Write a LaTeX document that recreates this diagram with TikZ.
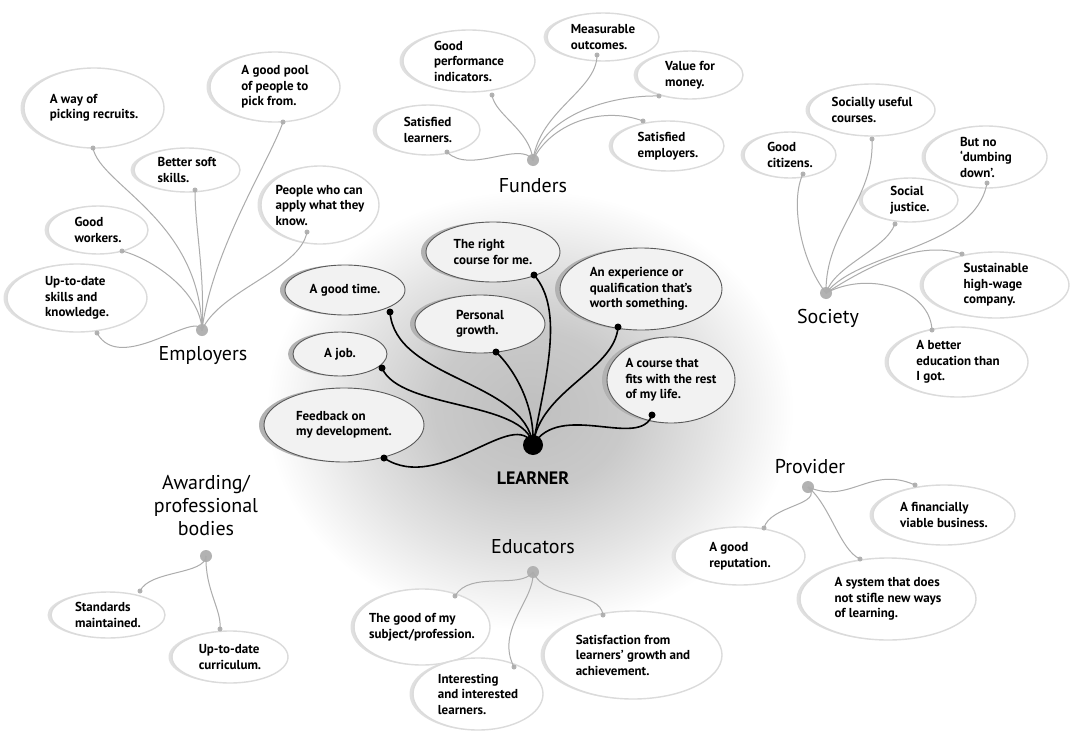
\documentclass[tikz,border=0pt]{standalone}
\usepackage{fontspec}
\setmainfont{PT Sans}
\usetikzlibrary{shapes.geometric}
\pgfdeclareradialshading{bgshade}{\pgfpoint{0bp}{0bp}}{color(0bp)=(gray!50); color(8bp)=(gray!42); color(15bp)=(gray!22); color(22bp)=(white); color(50bp)=(white)}
\tikzset{
  obub/.style={ellipse, fill=white, draw=gray!28, line width=1.4pt, inner sep=0pt,
    preaction={fill=gray!24, transform canvas={xshift=-3.5pt}}},
  lbub/.style={ellipse, fill=gray!10, draw=gray!70!black, line width=0.9pt, inner sep=0pt,
    preaction={fill=gray!60, transform canvas={xshift=-5pt}}},
  btxt/.style={align=left, inner sep=0pt, font=\fontsize{13}{15.5}\selectfont\bfseries},
  head/.style={align=center, inner sep=0pt, font=\fontsize{20}{23}\selectfont},
  ohub/.style={circle, fill=gray!60, inner sep=0pt, minimum size=12pt},
  odot/.style={circle, fill=gray!60, inner sep=0pt, minimum size=5pt},
  ldot/.style={circle, fill=black, inner sep=0pt, minimum size=7pt},
  lhub/.style={circle, fill=black, inner sep=0pt, minimum size=20pt},
  oline/.style={draw=gray!65, line width=1pt},
  lline/.style={draw=black, line width=1.6pt},
}
\newcommand\ob[6]{\node[obub, minimum width=#4pt, minimum height=#5pt] (#1) at (#2,#3) {};
  \node[btxt] (#1t) at (#2,#3) {#6};}
\newcommand\lb[6]{\node[lbub, minimum width=#4pt, minimum height=#5pt] (#1) at (#2,#3) {};
  \node[btxt] (#1t) at (#2,#3) {#6};}
\begin{document}
\begin{tikzpicture}[x=1pt,y=-1pt]
\useasboundingbox (0,0) rectangle (1072,731);
\fill[white] (0,0) rectangle (1072,731);
\shade[shading=bgshade] (530,410) ellipse (300 and 250);

% ---------- bubbles ----------
% Employers
\ob{wayof}{94}{108}{140}{80}{A way of\\picking recruits.}
\ob{soft}{187}{170}{106}{44}{Better soft\\skills.}
\ob{pool}{275}{87}{130}{70}{A good pool\\of people to\\pick from.}
\ob{workers}{98}{230}{100}{48}{Good\\workers.}
\ob{people}{320}{205}{118}{78}{People who can\\apply what they\\know.}
\ob{uptodate}{77}{298}{140}{68}{Up-to-date\\skills and\\knowledge.}
% Funders
\ob{perf}{469}{61}{132}{62}{Good\\performance\\indicators.}
\ob{meas}{603}{37}{112}{48}{Measurable\\outcomes.}
\ob{value}{690}{75}{106}{48}{Value for\\money.}
\ob{slearn}{428}{130}{104}{50}{Satisfied\\learners.}
\ob{semp}{668}{146}{112}{50}{Satisfied\\employers.}
% Society
\ob{socuse}{872}{110}{126}{52}{Socially useful\\courses.}
\ob{citizens}{790}{155}{92}{46}{Good\\citizens.}
\ob{dumb}{986}{157}{122}{62}{But no\\`dumbing\\down'.}
\ob{justice}{910}{200}{96}{44}{Social\\justice.}
\ob{sust}{996}{285}{146}{66}{Sustainable\\high-wage\\company.}
\ob{better}{958}{362}{140}{70}{A better\\education than\\I got.}
% Learner
\lb{right}{493}{252}{134}{60}{The right\\course for me.}
\lb{goodtime}{345}{290}{120}{50}{A good time.}
\lb{growth}{480}{324}{130}{58}{Personal\\growth.}
\lb{exper}{641}{289}{162}{82}{An experience or\\qualification that's\\worth something.}
\lb{fits}{671}{380}{128}{86}{A course that\\fits with the rest\\of my life.}
\lb{job}{340}{354}{94}{44}{A job.}
\lb{feedback}{344}{425}{160}{74}{Feedback on\\my development.}
% Awarding
\ob{standards}{108}{615}{114}{46}{Standards\\maintained.}
\ob{curric}{230}{657}{116}{52}{Up-to-date\\curriculum.}
% Educators
\ob{goodsub}{422}{627}{136}{76}{The good of my\\subject/profession.}
\ob{interest}{478}{694}{130}{72}{Interesting\\and interested\\learners.}
\ob{satis}{633}{655}{178}{88}{Satisfaction from\\learners' growth and\\achievement.}
% Provider
\ob{finance}{944}{515}{142}{60}{A financially\\viable business.}
\ob{reput}{740}{556}{130}{58}{A good\\reputation.}
\ob{system}{888}{599}{176}{82}{A system that does\\not stifle new ways\\of learning.}

% ---------- headings ----------
\node[head] (Elab) at (203,356) {Employers};
\node[head] (Flab) at (533,186) {Funders};
\node[head] (Slab) at (828,318) {Society};
\node[inner sep=0pt, font=\fontsize{18}{20}\selectfont\bfseries] (Llab) at (533,478) {LEARNER};
\node[head] (Alab) at (206,505) {Awarding/\\professional\\bodies};
\node[head] (Edlab) at (533,547) {Educators};
\node[head] (Plab) at (810,467) {Provider};

% ---------- hubs and dots ----------
\node[ohub] (E) at (202,330) {};
\node[odot] (e1) at (93,148) {};
\node[odot] (e2) at (195,190) {};
\node[odot] (e3) at (283,122) {};
\node[odot] (e4) at (122,251) {};
\node[odot] (e5) at (307,232) {};
\node[odot] (e6) at (97,333) {};

\node[ohub] (F) at (533,160) {};
\node[odot] (f1) at (492,95) {};
\node[odot] (f2) at (597,55) {};
\node[odot] (f3) at (659,96) {};
\node[odot] (f4) at (643,121) {};
\node[odot] (f5) at (447,152) {};

\node[ohub] (S) at (826,293) {};
\node[odot] (s1) at (803,174) {};
\node[odot] (s2) at (872,139) {};
\node[odot] (s3) at (895,224) {};
\node[odot] (s4) at (987,183) {};
\node[odot] (s5) at (962,254) {};
\node[odot] (s6) at (932,330) {};

\node[lhub] (L) at (533,445) {};
\node[ldot] (l1) at (534,275) {};
\node[ldot] (l2) at (390,312) {};
\node[ldot] (l3) at (496,352) {};
\node[ldot] (l4) at (382,368) {};
\node[ldot] (l5) at (384,458) {};
\node[ldot] (l6) at (618,327) {};
\node[ldot] (l7) at (652,415) {};

\node[ohub] (A) at (206,556) {};
\node[odot] (a1) at (140,591) {};
\node[odot] (a2) at (220,629) {};

\node[ohub] (Ed) at (533,572) {};
\node[odot] (d1) at (455,596) {};
\node[odot] (d2) at (514,667) {};
\node[odot] (d3) at (603,615) {};

\node[ohub] (P) at (808,487) {};
\node[odot] (p1) at (915,485) {};
\node[odot] (p2) at (764,528) {};
\node[odot] (p3) at (860,559) {};

% ---------- connectors ----------
\draw[oline] (E.center) .. controls (200,220) and (100,185) .. (e1.center);
\draw[oline] (E.center) .. controls (205,270) and (195,230) .. (e2.center);
\draw[oline] (E.center) .. controls (212,250) and (270,160) .. (e3.center);
\draw[oline] (E.center) .. controls (200,290) and (150,258) .. (e4.center);
\draw[oline] (E.center) .. controls (220,290) and (300,270) .. (e5.center);
\draw[oline] (E.center) .. controls (195,310) and (120,375) .. (e6.center);

\draw[oline] (F.center) .. controls (530,130) and (495,115) .. (f1.center);
\draw[oline] (F.center) .. controls (540,110) and (597,90) .. (f2.center);
\draw[oline] (F.center) .. controls (545,115) and (610,95) .. (f3.center);
\draw[oline] (F.center) .. controls (550,125) and (600,105) .. (f4.center);
\draw[oline] (F.center) .. controls (520,140) and (470,175) .. (f5.center);

\draw[oline] (S.center) .. controls (800,260) and (790,200) .. (s1.center);
\draw[oline] (S.center) .. controls (825,230) and (875,200) .. (s2.center);
\draw[oline] (S.center) .. controls (835,265) and (885,250) .. (s3.center);
\draw[oline] (S.center) .. controls (860,250) and (975,250) .. (s4.center);
\draw[oline] (S.center) .. controls (870,265) and (920,240) .. (s5.center);
\draw[oline] (S.center) .. controls (870,270) and (930,290) .. (s6.center);

\draw[lline] (L.center) .. controls (545,380) and (565,310) .. (l1.center);
\draw[lline] (L.center) .. controls (525,380) and (395,380) .. (l2.center);
\draw[lline] (L.center) .. controls (535,400) and (510,365) .. (l3.center);
\draw[lline] (L.center) .. controls (525,400) and (400,410) .. (l4.center);
\draw[lline] (L.center) .. controls (515,405) and (440,495) .. (l5.center);
\draw[lline] (L.center) .. controls (540,390) and (615,370) .. (l6.center);
\draw[lline] (L.center) .. controls (560,400) and (640,450) .. (l7.center);

\draw[oline] (A.center) .. controls (205,575) and (150,570) .. (a1.center);
\draw[oline] (A.center) .. controls (205,590) and (222,610) .. (a2.center);

\draw[oline] (Ed.center) .. controls (520,590) and (470,570) .. (d1.center);
\draw[oline] (Ed.center) .. controls (535,600) and (495,630) .. (d2.center);
\draw[oline] (Ed.center) .. controls (545,600) and (600,590) .. (d3.center);

\draw[oline] (P.center) .. controls (850,505) and (870,465) .. (p1.center);
\draw[oline] (P.center) .. controls (825,505) and (770,505) .. (p2.center);
\draw[oline] (P.center) .. controls (830,505) and (840,550) .. (p3.center);
\end{tikzpicture}
\end{document}
